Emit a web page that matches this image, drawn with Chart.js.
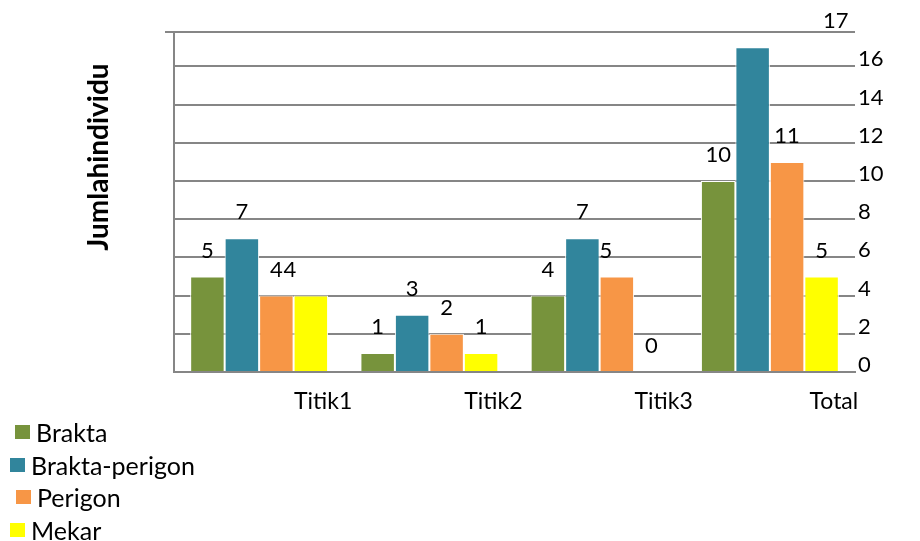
<!DOCTYPE html>
<html>
<head>
<meta charset="utf-8">
<script src="https://cdn.jsdelivr.net/npm/chart.js@4"></script>
<style>
  html, body { margin: 0; padding: 0; background: #fff; }
  #wrap { position: relative; width: 920px; height: 541px; }
  #legend { position: absolute; left: 0; top: 416px; font-family: Lato, sans-serif; font-size: 25px; color: #000; }
  .lg-item { display: flex; align-items: center; height: 32.5px; }
  .lg-box { width: 15px; height: 14px; margin-right: 6px; }
</style>
</head>
<body>
<div id="wrap">
  <canvas id="c" width="920" height="541"></canvas>
  <div id="legend"></div>
</div>
<script>
// ── data ──
const CATS = ['Titik1', 'Titik2', 'Titik3', 'Total'];
const SERIES = ['Brakta', 'Brakta-perigon', 'Perigon', 'Mekar'];
const BRAKTA = [5, 1, 4, 10];
const BRAKTA_PERIGON = [7, 3, 7, 17];
const PERIGON = [4, 2, 5, 11];
const MEKAR = [4, 1, 0, 5];
const Y_TICKS = [0, 2, 4, 6, 8, 10, 12, 14, 16];
const Y_MAX = 17.8;
const Y_TITLE = 'Jumlahindividu';

const COLORS = ['#77933C', '#31859C', '#F79646', '#FFFF00'];
const GRID = '#868686';
// some value labels are pushed sideways so they don't collide
const LABEL_NUDGE = [[0, 0, 0, 0], [0, 0, 0, 83], [0, 0, -11, 0], [-21, 0, 0, 0]];
const LEGEND_INDENT = [15, 10, 16, 10];

const FONT = 'Lato';

// value labels above each bar, rotated axis title, top-left tick stub
const overlay = {
  id: 'overlay',
  afterDatasetsDraw(chart) {
    const { ctx, chartArea } = chart;
    ctx.save();
    ctx.font = `22px ${FONT}`;
    ctx.fillStyle = '#000';
    ctx.textAlign = 'center';
    ctx.textBaseline = 'middle';
    chart.data.datasets.forEach((ds, i) => {
      chart.getDatasetMeta(i).data.forEach((bar, j) => {
        ctx.fillText(String(ds.data[j]), bar.x + LABEL_NUDGE[i][j], bar.y - 26);
      });
    });

    ctx.strokeStyle = GRID;
    ctx.lineWidth = 2;
    ctx.beginPath();
    ctx.moveTo(chartArea.left - 9, chartArea.top);
    ctx.lineTo(chartArea.left, chartArea.top);
    ctx.stroke();

    // axis title
    ctx.font = `bold 28px ${FONT}`;
    ctx.translate(99, 157);
    ctx.rotate(-Math.PI / 2);
    ctx.fillText(Y_TITLE, 0, 0);
    ctx.restore();
  }
};

const datasets = [BRAKTA, BRAKTA_PERIGON, PERIGON, MEKAR].map((d, i) => ({
  label: SERIES[i],
  data: d,
  backgroundColor: COLORS[i],
  borderColor: '#fff',
  borderWidth: 1,
  categoryPercentage: 0.81,
  barPercentage: 1
}));

new Chart(document.getElementById('c'), {
  type: 'bar',
  data: { labels: CATS, datasets },
  options: {
    responsive: false,
    animation: false,
    layout: { padding: { top: 32, bottom: 119, left: 0, right: 0 } },
    plugins: { legend: { display: false }, tooltip: { enabled: false } },
    scales: {
      x: {
        grid: { display: false },
        border: { display: true, color: GRID, width: 2 },
        ticks: { color: '#000', font: { family: FONT, size: 23 }, padding: 8, labelOffset: 64, maxRotation: 0 },
        afterFit: s => { s.height = 50; }
      },
      y: {
        position: 'right',
        min: 0,
        max: Y_MAX,
        afterBuildTicks: s => { s.ticks = Y_TICKS.concat([Y_MAX]).map(v => ({ value: v })); },
        grid: { color: GRID, lineWidth: 2, drawTicks: false },
        border: { display: false },
        ticks: {
          color: '#000',
          font: { family: FONT, size: 22 },
          padding: 3,
          labelOffset: -7,
          callback: v => Y_TICKS.includes(v) ? String(v) : ''
        },
        afterFit: s => { s.width = 65; }
      },
      yl: {
        position: 'left',
        min: 0,
        max: Y_MAX,
        grid: { display: false, drawTicks: false },
        border: { display: true, color: GRID, width: 2 },
        ticks: { display: false },
        afterFit: s => { s.width = 174; }
      }
    }
  },
  plugins: [overlay]
});

// legend, one series per line
document.getElementById('legend').innerHTML = SERIES.map((name, i) =>
  `<div class="lg-item" style="padding-left:${LEGEND_INDENT[i]}px"><span class="lg-box" style="background:${COLORS[i]}"></span>${name}</div>`
).join('');
</script>
</body>
</html>
